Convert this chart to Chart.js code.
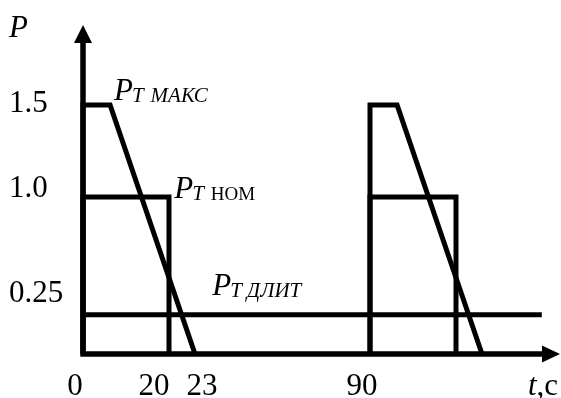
<!DOCTYPE html>
<html><head><meta charset="utf-8">
<script src="https://cdn.jsdelivr.net/npm/chart.js@4.4.0/dist/chart.umd.min.js"></script>
<style>html,body{margin:0;padding:0;background:#fff}#wrap{width:561px;height:398px;position:relative}</style>
</head><body><div id="wrap"><canvas id="c" width="561" height="398"></canvas></div>
<script>
// ---------- data (t in seconds, P in per-unit) ----------
// P_T max profile: two cycles (null = break between cycles)
const maxT = [0, 0, 6.3, 23, null, 90, 90, 96.3, 113];
const maxP = [0, 1.5, 1.5, 0, null, 0, 1.5, 1.5, 0];
// P_T nominal profile
const nomT = [0, 0, 20, 20, null, 90, 90, 110, 110];
const nomP = [0, 1.0, 1.0, 0, null, 0, 1.0, 1.0, 0];
// P_T long-term level
const longT = [0, 136];
const longP = [0.25, 0.25];
// tick labels
const xTicks = [0, 20, 23, 90];
const xTickLabels = ['0', '20', '23', '90'];
const yTicks = [1.5, 1.0, 0.25];
const yTickLabels = ['1.5', '1.0', '0.25'];

// ---------- schematic (piecewise) axis definition: [value, offset px] ----------
const scaleKnots = {
  x: [[0, 0], [20, 86], [23, 112], [90, 287], [110, 373], [113, 399], [143, 477]],
  y: [[0, 0], [1, 157], [1.5, 249], [2, 329]]
};
// label placement nudges (px)
const xLabelNudge = [-8, -15, 7, -8];
const yLabelNudge = [7, 0, -13];

class PiecewiseScale extends Chart.LinearScale {
  static id = 'piecewise';
  static defaults = Chart.LinearScale.defaults;
  _off(v) {
    const k = scaleKnots[this.id];
    let i = 1;
    while (i < k.length - 1 && v > k[i][0]) i++;
    const a = k[i - 1], b = k[i];
    return a[1] + (v - a[0]) * (b[1] - a[1]) / (b[0] - a[0]);
  }
  getPixelForValue(v) {
    if (v === null || v === undefined || isNaN(v)) return NaN;
    const k = scaleKnots[this.id];
    return this.getPixelForDecimal(this._off(v) / k[k.length - 1][1]);
  }
  getValueForPixel(p) {
    const k = scaleKnots[this.id];
    let d = (p - this._startPixel) / this._length;
    if (this._reversePixels) d = 1 - d;
    const o = d * k[k.length - 1][1];
    let i = 1;
    while (i < k.length - 1 && o > k[i][1]) i++;
    const a = k[i - 1], b = k[i];
    return a[0] + (o - a[1]) * (b[0] - a[0]) / (b[1] - a[1]);
  }
}
Chart.register(PiecewiseScale);

const pts = (T, P) => T.map((t, i) => ({ x: t === null ? NaN : t, y: P[i] === null ? NaN : P[i] }));
const SERIF = '"Liberation Serif", "Times New Roman", serif';
const LW = 5;

function drawRich(ctx, x, y, parts) {
  for (const p of parts) {
    ctx.font = p.font;
    ctx.fillText(p.text, x, y + (p.dy || 0));
    x += ctx.measureText(p.text).width + (p.dx || 0);
  }
}

const decor = {
  id: 'decor',
  beforeDatasetsDraw(chart) {
    const { ctx, scales: { x, y } } = chart;
    const x0 = x.getPixelForValue(0), y0 = y.getPixelForValue(0);
    const xEnd = x.right, yEnd = y.top;
    ctx.save();
    ctx.strokeStyle = '#000'; ctx.fillStyle = '#000';
    ctx.lineWidth = 5.5; ctx.lineCap = 'butt';
    ctx.beginPath();
    ctx.moveTo(x0, y0 + 2.5); ctx.lineTo(x0, yEnd + 14);
    ctx.moveTo(x0 - 2.5, y0); ctx.lineTo(xEnd - 14, y0);
    ctx.stroke();
    // arrow heads
    ctx.beginPath();
    ctx.moveTo(x0, yEnd); ctx.lineTo(x0 - 9, yEnd + 18); ctx.lineTo(x0 + 9, yEnd + 18); ctx.closePath();
    ctx.moveTo(xEnd, y0); ctx.lineTo(xEnd - 18, y0 - 8.5); ctx.lineTo(xEnd - 18, y0 + 8.5); ctx.closePath();
    ctx.fill();
    ctx.restore();
  },
  afterDatasetsDraw(chart) {
    const { ctx, scales: { x, y } } = chart;
    ctx.save();
    ctx.fillStyle = '#000';
    ctx.textBaseline = 'alphabetic';
    const F = '31px ' + SERIF, FI = 'italic 31px ' + SERIF;
    const FS = '19px ' + SERIF, FSI = 'italic 21px ' + SERIF;
    // y tick labels
    ctx.font = F; ctx.textAlign = 'left';
    yTicks.forEach((v, i) => ctx.fillText(yTickLabels[i], 9, y.getPixelForValue(v) + yLabelNudge[i]));
    // x tick labels
    ctx.textAlign = 'center';
    const xb = y.getPixelForValue(0) + 41;
    xTicks.forEach((t, i) => ctx.fillText(xTickLabels[i], x.getPixelForValue(t) + xLabelNudge[i], xb));
    ctx.textAlign = 'left';
    // axis titles
    ctx.font = FI; ctx.fillText('P', 9, 37);
    drawRich(ctx, 528, xb, [{ text: 't', font: FI }, { text: ',c', font: F }]);
    // series annotations
    drawRich(ctx, x.getPixelForValue(7.2), y.getPixelForValue(1.5) - 5,
      [{ text: 'P', font: FI, dx: -1 }, { text: 'T', font: FSI, dy: 2, dx: 7 }, { text: 'МАКС', font: FSI, dy: 2 }]);
    drawRich(ctx, x.getPixelForValue(20.6), y.getPixelForValue(1.0) + 1,
      [{ text: 'P', font: FI, dx: -1 }, { text: 'T', font: FSI, dy: 2, dx: 7 }, { text: 'НОМ', font: FS, dy: 2 }]);
    drawRich(ctx, x.getPixelForValue(29.6), y.getPixelForValue(0.25) - 20,
      [{ text: 'P', font: FI, dx: -1 }, { text: 'T', font: FSI, dy: 2, dx: 5 }, { text: 'ДЛИТ', font: FSI, dy: 2 }]);
    ctx.restore();
  }
};

const ds = (label, T, P) => ({
  label, data: pts(T, P), borderColor: '#000', borderWidth: LW, pointRadius: 0,
  fill: false, tension: 0, spanGaps: false, clip: false,
  borderJoinStyle: 'miter', borderCapStyle: 'butt'
});

new Chart(document.getElementById('c'), {
  type: 'line',
  data: { datasets: [
    ds('P_T max', maxT, maxP),
    ds('P_T nom', nomT, nomP),
    ds('P_T long', longT, longP)
  ] },
  options: {
    responsive: false, animation: false, events: [],
    layout: { padding: { left: 83, right: 1, top: 25, bottom: 44 } },
    plugins: { legend: { display: false }, tooltip: { enabled: false } },
    scales: {
      x: { type: 'piecewise', min: 0, max: 143, display: false },
      y: { type: 'piecewise', min: 0, max: 2, display: false }
    }
  },
  plugins: [decor]
});
</script></body></html>
